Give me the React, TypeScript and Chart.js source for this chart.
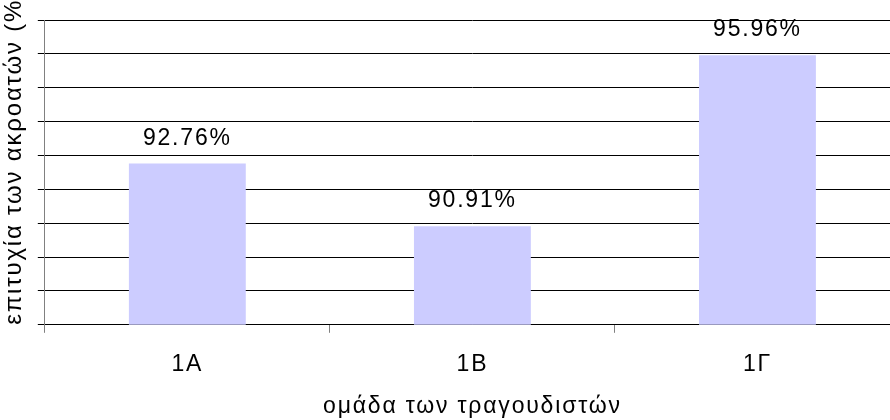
import React, { useEffect, useRef } from 'react';
import { Chart, registerables } from 'chart.js';

Chart.register(...registerables);

// ---- data ----
const categories: string[] = ['1Α', '1Β', '1Γ'];
const successRates: number[] = [92.76, 90.91, 95.96];
const yMin = 88;
const yMax = 97;
const yStep = 1;
const xTitle = 'ομάδα των τραγουδιστών';
const yTitle = 'επιτυχία των ακροατών (%)';

const FONT = '"Liberation Sans", Arial, sans-serif';
const LETTER_SPACING = '1.8px';

const spacingPlugin = {
  id: 'letterSpacingPlugin',
  beforeDraw(chart: any) {
    chart.ctx.letterSpacing = LETTER_SPACING;
  },
  afterDraw(chart: any) {
    chart.ctx.letterSpacing = '0px';
  },
};

const valueLabelPlugin = {
  id: 'valueLabels',
  afterDatasetsDraw(chart: any) {
    const ctx = chart.ctx;
    const meta = chart.getDatasetMeta(0);
    ctx.save();
    ctx.letterSpacing = LETTER_SPACING;
    ctx.font = `23px ${FONT}`;
    ctx.fillStyle = '#000000';
    ctx.textAlign = 'center';
    ctx.textBaseline = 'alphabetic';
    meta.data.forEach((bar: any, i: number) => {
      ctx.fillText(successRates[i].toFixed(2) + '%', bar.x, bar.y - 19);
    });
    ctx.restore();
  },
};

export default function App() {
  const canvasRef = useRef<HTMLCanvasElement | null>(null);

  useEffect(() => {
    if (!canvasRef.current) return;
    const chart = new Chart(canvasRef.current, {
      type: 'bar',
      data: {
        labels: categories,
        datasets: [
          {
            data: successRates,
            backgroundColor: '#CCCCFF',
            borderWidth: 0,
            categoryPercentage: 1,
            barPercentage: 0.41,
          },
        ],
      },
      options: {
        responsive: false,
        animation: false,
        layout: { padding: { top: 20, left: 0, right: 0, bottom: 0 } },
        plugins: {
          legend: { display: false },
          tooltip: { enabled: false },
          title: { display: false },
        },
        scales: {
          x: {
            type: 'category',
            offset: true,
            grid: {
              display: true,
              offset: true,
              drawOnChartArea: false,
              drawTicks: true,
              tickLength: 8,
              color: '#808080',
              lineWidth: 1,
            },
            border: { display: true, color: '#000000', width: 1 },
            ticks: {
              color: '#000000',
              font: { family: FONT, size: 23 },
              padding: 18,
              maxRotation: 0,
              autoSkip: false,
            },
            title: {
              display: true,
              text: xTitle,
              color: '#000000',
              font: { family: FONT, size: 23 },
              padding: { top: -4, bottom: 0 },
            },
          },
          y: {
            min: yMin,
            max: yMax,
            ticks: { display: false, stepSize: yStep },
            grid: {
              color: '#000000',
              lineWidth: 1,
              drawTicks: true,
              tickLength: 7,
            },
            border: { display: true, color: '#808080', width: 1 },
            title: {
              display: true,
              text: yTitle,
              align: 'start',
              color: '#000000',
              font: { family: FONT, size: 24 },
              padding: { top: 0, bottom: 9 },
            },
          },
        },
      },
      plugins: [spacingPlugin, valueLabelPlugin],
    } as any);
    return () => chart.destroy();
  }, []);

  return (
    <div
      style={{
        position: 'fixed',
        left: 0,
        top: 0,
        width: 890,
        height: 420,
        overflow: 'hidden',
        background: '#ffffff',
      }}
    >
      <canvas ref={canvasRef} width={900} height={420} style={{ display: 'block' }} />
    </div>
  );
}
